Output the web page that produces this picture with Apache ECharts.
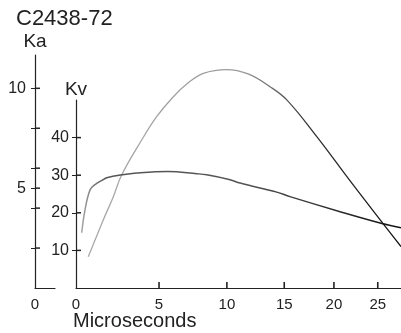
<!DOCTYPE html>
<html>
<head>
<meta charset="utf-8">
<script src="https://cdn.jsdelivr.net/npm/echarts@6/dist/echarts.min.js"></script>
<style>html,body{margin:0;padding:0;background:#fff}#c{width:401px;height:333px}</style>
</head>
<body>
<div id="c"></div>
<script>
// ---- data ----
const xTickLabels = [0, 5, 10, 15, 20, 25];
const kaTickValues = [2, 4, 5, 6, 8, 10];
const kaTickLabels = [5, 10];
const kvTickLabels = [10, 20, 30, 40];

const kaTime = [0.67, 1.05, 1.52, 2.11, 2.61, 3.86, 4.84, 5.98, 7.0, 8.16, 9.98, 11.76, 13.69, 15.24, 18.2, 21.78, 25.69, 27.9];
const kaValue = [1.57, 2.40, 3.41, 4.57, 5.66, 7.41, 8.58, 9.58, 10.25, 10.75, 10.94, 10.72, 10.08, 9.42, 7.58, 5.36, 3.20, 2.07];

const kvTime = [0.31, 0.49, 0.77, 1.05, 1.51, 1.72, 2.63, 3.54, 5.6, 7.67, 8.42, 10.26, 11.08, 14.3, 15.54, 20.67, 25.28, 27.9];
const kvValue = [14.7, 20.8, 26.1, 27.5, 28.8, 29.3, 30.1, 30.6, 31.0, 30.4, 30.1, 28.8, 27.9, 25.5, 24.3, 20.3, 17.3, 16.0];

// the original time axis is compressed to the right: it is drawn on a log10(t + 20) scale
const SHIFT = 20;
const X_MAX = 27.9;
const warp = t => Math.log10(t + SHIFT);
const unwarp = u => Math.pow(10, u) - SHIFT;

const KA_MAX = 233 / 19.97;
const KV_MAX = 50;

const FONT = 'Liberation Sans';
const INK = '#222';

const pairs = (xs, ys) => xs.map((x, i) => [warp(x), ys[i]]);

function timeAxis(gridIndex, show) {
  return {
    type: 'value', gridIndex: gridIndex, show: show,
    min: warp(0), max: warp(X_MAX),
    axisLine: {show: true, lineStyle: {color: INK, width: 1.2}},
    axisTick: {show: false},
    axisLabel: {show: true, customValues: xTickLabels.map(warp),
      formatter: v => String(Math.round(unwarp(v))),
      fontFamily: FONT, fontSize: 15, color: INK, margin: 9},
    splitLine: {show: false}
  };
}

// small inward tick marks drawn as symbols of an invisible line series, at axis coordinates
function tickMarks(xi, yi, data, size, offset) {
  return {type: 'line', xAxisIndex: xi, yAxisIndex: yi, data: data, silent: true, clip: false, z: 5,
    showSymbol: true, showAllSymbol: true, symbol: 'rect', symbolSize: size, symbolOffset: offset,
    lineStyle: {width: 0, opacity: 0}, itemStyle: {color: INK, opacity: 1}};
}

const chart = echarts.init(document.getElementById('c'), null, {renderer: 'canvas'});
chart.setOption({
  animation: false,
  backgroundColor: '#fff',
  title: [
    {text: 'C2438-72', left: 11, top: 3, textStyle: {fontFamily: FONT, fontSize: 22, fontWeight: 'normal', color: INK}},
    {text: 'Microseconds', left: 68, top: 306, textStyle: {fontFamily: FONT, fontSize: 20, fontWeight: 'normal', color: INK}}
  ],
  grid: [
    {left: 76, right: 0, top: 55, bottom: 45, containLabel: false},   // Ka plot
    {left: 76, right: 0, top: 100, bottom: 45, containLabel: false},  // Kv plot
    {left: 35, width: 20, top: 55, bottom: 45, containLabel: false}   // Ka foot
  ],
  xAxis: [
    timeAxis(0, false),
    timeAxis(1, true),
    {type: 'value', gridIndex: 2, min: 0, max: 1,
     axisLine: {show: true, lineStyle: {color: INK, width: 1.2}},
     axisTick: {show: false}, splitLine: {show: false},
     axisLabel: {customValues: [0], formatter: v => String(v), fontFamily: FONT, fontSize: 15, color: INK, margin: 9}}
  ],
  yAxis: [
    {type: 'value', gridIndex: 0, position: 'left', offset: 41, min: 0, max: KA_MAX,
     name: 'Ka', nameLocation: 'end', nameGap: 4,
     nameTextStyle: {fontFamily: FONT, fontSize: 19, color: INK},
     axisLine: {show: true, lineStyle: {color: INK, width: 1.2}},
     axisTick: {show: true, length: 4, customValues: kaTickValues, lineStyle: {color: INK}},
     axisLabel: {customValues: kaTickLabels, fontFamily: FONT, fontSize: 16, color: INK, margin: 9},
     splitLine: {show: false}},
    {type: 'value', gridIndex: 1, position: 'left', offset: 0, min: 0, max: KV_MAX,
     name: 'Kv', nameLocation: 'end', nameGap: 1,
     nameTextStyle: {fontFamily: FONT, fontSize: 19, color: INK},
     axisLine: {show: true, lineStyle: {color: INK, width: 1.2}},
     axisTick: {show: true, length: 4, customValues: kvTickLabels, lineStyle: {color: INK}},
     axisLabel: {customValues: kvTickLabels, fontFamily: FONT, fontSize: 16, color: INK, margin: 7},
     splitLine: {show: false}},
    {type: 'value', gridIndex: 2, show: false, min: 0, max: KA_MAX}
  ],
  series: [
    {name: 'Ka', type: 'line', xAxisIndex: 0, yAxisIndex: 0, data: pairs(kaTime, kaValue),
     smooth: 0.4, showSymbol: false, symbol: 'none',
     lineStyle: {width: 1.3, color: new echarts.graphic.LinearGradient(0, 0, 1, 0, [
       {offset: 0, color: '#aaa'}, {offset: 0.5, color: '#999'}, {offset: 0.7, color: '#333'}, {offset: 1, color: '#111'}])}},
    {name: 'Kv', type: 'line', xAxisIndex: 1, yAxisIndex: 1, data: pairs(kvTime, kvValue),
     smooth: 0.4, showSymbol: false, symbol: 'none',
     lineStyle: {width: 1.5, color: new echarts.graphic.LinearGradient(0, 0, 1, 0, [
       {offset: 0, color: '#aaa'}, {offset: 0.08, color: '#555'}, {offset: 0.5, color: '#555'}, {offset: 1, color: '#111'}])}},
    tickMarks(1, 1, xTickLabels.filter(t => t > 0).map(t => [warp(t), 0]), [1.6, 6], [0, -3]),
    tickMarks(1, 1, kvTickLabels.map(v => [warp(0), v]), [5, 1.5], [2.5, 0]),
    tickMarks(2, 2, kaTickValues.map(v => [0, v]), [5, 1.5], [2.5, 0])
  ]
});
</script>
</body>
</html>
